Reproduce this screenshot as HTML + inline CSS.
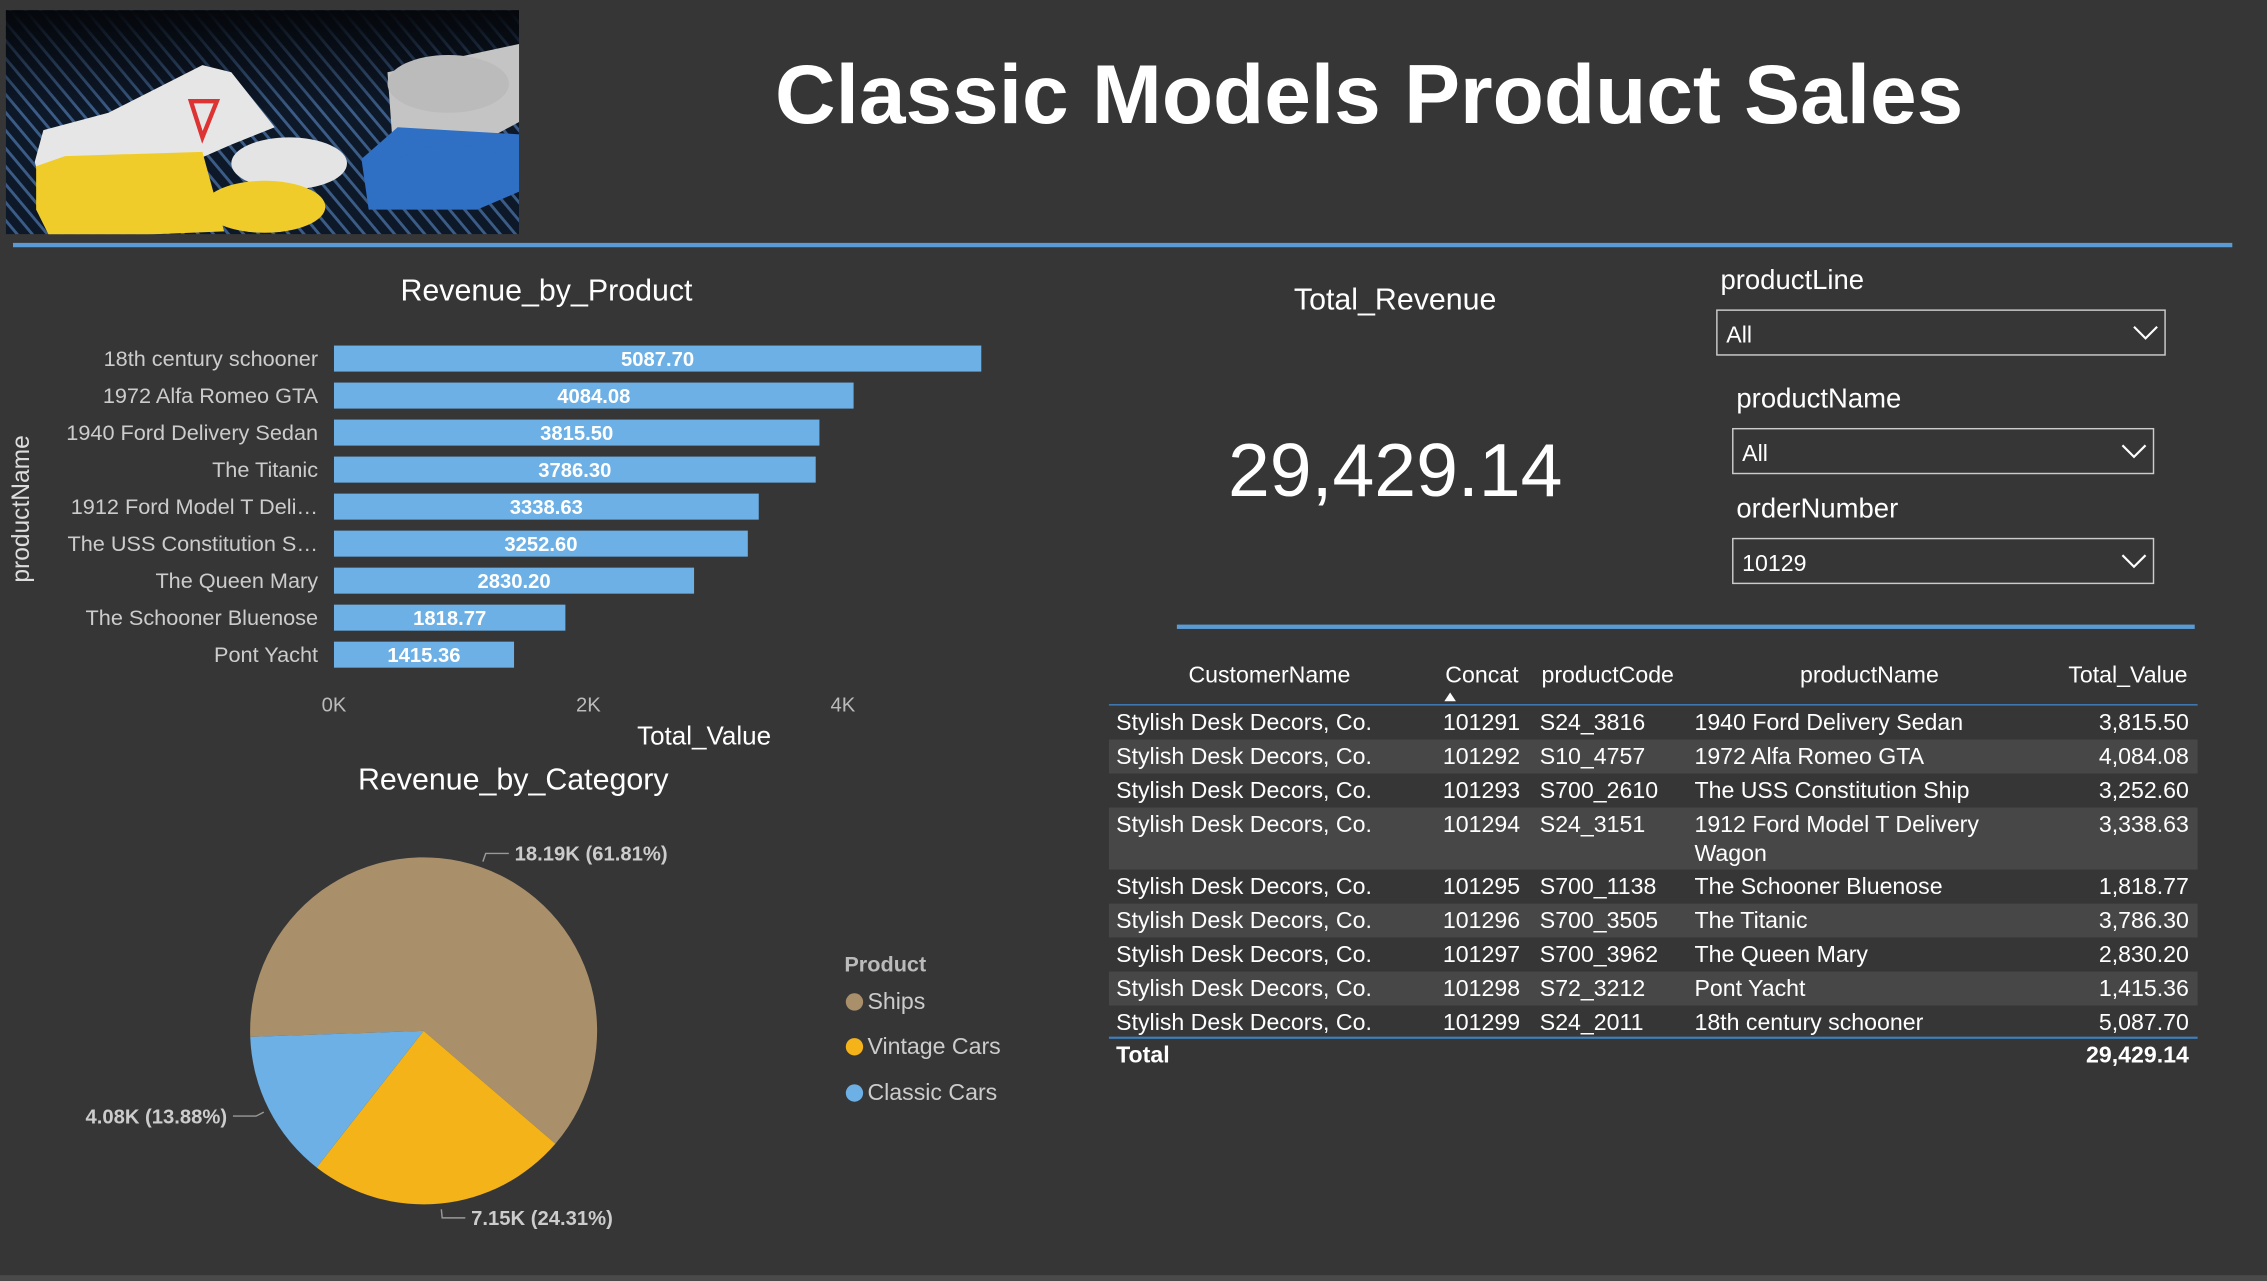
<!DOCTYPE html>
<html><head><meta charset="utf-8"><style>
html,body{margin:0;padding:0;background:#363636;overflow:hidden}
svg{display:block;font-family:"Liberation Sans",sans-serif}
</style></head><body>
<svg id="s" width="2267" height="1281" viewBox="0 0 1568 886" xmlns="http://www.w3.org/2000/svg">
<rect width="1568" height="886" fill="#363636"/>
<defs><pattern id="st" width="8" height="8" patternUnits="userSpaceOnUse" patternTransform="rotate(-40)"><rect width="8" height="8" fill="#0d1828"/><rect width="2" height="8" fill="#3b5c86"/></pattern>
<linearGradient id="fade" x1="0" y1="0" x2="0" y2="1"><stop offset="0" stop-color="#05070b" stop-opacity="1"/><stop offset="0.45" stop-color="#05070b" stop-opacity="0"/></linearGradient>
<clipPath id="imgclip"><rect x="4" y="7" width="355" height="155"/></clipPath></defs>
<g clip-path="url(#imgclip)">
<rect x="4" y="7" width="355" height="155" fill="url(#st)"/>
<rect x="4" y="7" width="355" height="155" fill="url(#fade)"/>
<polygon points="24,112 30,90 75,78 140,45 160,50 190,88 160,100 80,135 30,132" fill="#e6e6e6"/>
<polygon points="132,70 140,95 150,70" fill="none" stroke="#d33" stroke-width="3"/>
<ellipse cx="200" cy="113" rx="40" ry="18" fill="#e4e4e4"/>
<polygon points="268,50 398,22 408,58 330,100 272,105" fill="#c4c4c4"/>
<ellipse cx="440" cy="88" rx="42" ry="20" fill="#bbbbbb" transform="translate(-130,-30)"/>
<polygon points="25,170 25,140 45,133 140,130 155,185 35,190" fill="#f0cc2a" transform="translate(0,-25)"/>
<ellipse cx="183" cy="143" rx="42" ry="18" fill="#f0cc2a"/>
<polygon points="250,150 275,128 395,135 412,150 330,185 255,185" fill="#2f6fc4" transform="translate(0,-40)"/>
<ellipse cx="313" cy="120" rx="42" ry="20" fill="#2f6fc4"/>
</g>
<text x="947" y="85" text-anchor="middle" font-size="58" font-weight="bold" fill="#ffffff">Classic Models Product Sales</text>
<rect x="9" y="168" width="1535" height="3" fill="#5b9bd5"/>
<g id="bar">
<text x="378" y="208" text-anchor="middle" font-size="21" fill="#fff">Revenue_by_Product</text>
<text x="20" y="352" text-anchor="middle" font-size="17" fill="#ddd" transform="rotate(-90 20 352)">productName</text>
<text x="487" y="515" text-anchor="middle" font-size="18" fill="#fff">Total_Value</text>
</g>
<g id="pie">
<text x="355" y="546" text-anchor="middle" font-size="21" fill="#fff">Revenue_by_Category</text>
</g>
<g>
<text x="584" y="672" font-size="15" font-weight="bold" fill="#bbb">Product</text>
<circle cx="591" cy="693" r="6" fill="#a9906a"/>
<text x="600" y="698" font-size="16" fill="#ccc">Ships</text>
<circle cx="591" cy="724" r="6" fill="#f5b31a"/>
<text x="600" y="729" font-size="16" fill="#ccc">Vintage Cars</text>
<circle cx="591" cy="756" r="6" fill="#6cb0e6"/>
<text x="600" y="761" font-size="16" fill="#ccc">Classic Cars</text>
</g>
<g>
<text x="965" y="214" text-anchor="middle" font-size="21" fill="#fff">Total_Revenue</text>
<text x="965" y="343" text-anchor="middle" font-size="52" fill="#fff">29,429.14</text>
</g>
<g>
<text x="1190" y="200" font-size="19" fill="#fff">productLine</text>
<rect x="1187.5" y="214.5" width="310" height="31" fill="#363636" stroke="#ccc"/>
<text x="1194" y="237" font-size="16" fill="#fff">All</text>
<polyline points="1476,226 1484,234 1492,226" fill="none" stroke="#fff" stroke-width="1.5"/>
</g>
<g>
<text x="1201" y="282" font-size="19" fill="#fff">productName</text>
<rect x="1198.5" y="296.5" width="291" height="31" fill="#363636" stroke="#ccc"/>
<text x="1205" y="319" font-size="16" fill="#fff">All</text>
<polyline points="1468,308 1476,316 1484,308" fill="none" stroke="#fff" stroke-width="1.5"/>
</g>
<g>
<text x="1201" y="358" font-size="19" fill="#fff">orderNumber</text>
<rect x="1198.5" y="372.5" width="291" height="31" fill="#363636" stroke="#ccc"/>
<text x="1205" y="395" font-size="16" fill="#fff">10129</text>
<polyline points="1468,384 1476,392 1484,384" fill="none" stroke="#fff" stroke-width="1.5"/>
</g>
<rect x="814" y="432" width="704" height="3" fill="#5b9bd5"/>
<g id="tbl"></g>
<rect x="0" y="882" width="1568" height="4" fill="#4a4a4a"/>
</svg>
<script>
const NS="http://www.w3.org/2000/svg";
function mk(p,t,a,txt){const e=document.createElementNS(NS,t);for(const k in a)e.setAttribute(k,a[k]);if(txt!=null)e.textContent=txt;p.appendChild(e);return e;}
// bar chart data
const productNames=["18th century schooner","1972 Alfa Romeo GTA","1940 Ford Delivery Sedan","The Titanic","1912 Ford Model T Deli…","The USS Constitution S…","The Queen Mary","The Schooner Bluenose","Pont Yacht"];
const productValues=[5087.70,4084.08,3815.50,3786.30,3338.63,3252.60,2830.20,1818.77,1415.36];
const xTicks=[0,2000,4000];
const xTickLabels=["0K","2K","4K"];
const bar=document.getElementById('bar');
const x0=231,pxPer=176/2000;
const xs=v=>x0+v*pxPer;
const ys=i=>248+i*25.6;
xTicks.forEach((t,i)=>{const e=mk(bar,'text',{x:xs(t),y:492,'text-anchor':'middle','font-size':14,fill:'#bbb'},xTickLabels[i]);

});
productValues.forEach((v,i)=>{
const r=mk(bar,'rect',{x:x0,y:ys(i)-9,width:xs(v)-x0,height:18,fill:'#6cb0e6'});


const l=mk(bar,'text',{x:(x0+xs(v))/2,y:ys(i)+5,'text-anchor':'middle','font-size':14,'font-weight':'bold',fill:'#fff'},v.toFixed(2));


const c=mk(bar,'text',{x:220,y:ys(i)+5,'text-anchor':'end','font-size':15,fill:'#ccc'},productNames[i]);


});
// pie data
const categories=["Ships","Vintage Cars","Classic Cars"];
const categoryValues=[18190,7150,4080];
const pieLabels=["18.19K (61.81%)","7.15K (24.31%)","4.08K (13.88%)"];
const colors=["#a9906a","#f5b31a","#6cb0e6"];
const pie=document.getElementById('pie');
const cx=293,cy=713,R=120;let ang=-92*Math.PI/180;
const tot=categoryValues.reduce((a,b)=>a+b,0);
categoryValues.forEach((v,i)=>{
const a2=ang+v/tot*2*Math.PI;
const p1=[cx+R*Math.sin(ang),cy-R*Math.cos(ang)],p2=[cx+R*Math.sin(a2),cy-R*Math.cos(a2)];
const big=(a2-ang)>Math.PI?1:0;
const s=mk(pie,'path',{d:`M${cx},${cy}L${p1[0]},${p1[1]}A${R},${R} 0 ${big} 1 ${p2[0]},${p2[1]}Z`,fill:colors[i]});


const m=(ang+a2)/2;
const e1=[cx+(R+4)*Math.sin(m),cy-(R+4)*Math.cos(m)],e2=[cx+(R+10)*Math.sin(m),cy-(R+10)*Math.cos(m)];
const right=Math.sin(m)>=0;const e3=[e2[0]+(right?16:-16),e2[1]];
mk(pie,'polyline',{points:`${e1} ${e2} ${e3}`,fill:'none',stroke:'#999'});
const t=mk(pie,'text',{x:e3[0]+(right?4:-4),y:e3[1]+5,'text-anchor':right?'start':'end','font-size':14,'font-weight':'bold',fill:'#ccc'},pieLabels[i]);


ang=a2;});
// table
const tbl=document.getElementById('tbl');
const rows=[["101291","S24_3816","1940 Ford Delivery Sedan","3,815.50"],["101292","S10_4757","1972 Alfa Romeo GTA","4,084.08"],["101293","S700_2610","The USS Constitution Ship","3,252.60"],["101294","S24_3151","1912 Ford Model T Delivery|Wagon","3,338.63"],["101295","S700_1138","The Schooner Bluenose","1,818.77"],["101296","S700_3505","The Titanic","3,786.30"],["101297","S700_3962","The Queen Mary","2,830.20"],["101298","S72_3212","Pont Yacht","1,415.36"],["101299","S24_2011","18th century schooner","5,087.70"]];
const hdr=[["CustomerName",878,'middle'],["Concat",1025,'middle'],["productCode",1112,'middle'],["productName",1293,'middle'],["Total_Value",1513,'end']];
hdr.forEach(h=>{const e=mk(tbl,'text',{x:h[1],y:472,'text-anchor':h[2],'font-size':16,fill:'#fff'},h[0]);

});
mk(tbl,'polygon',{points:'999,485 1003,479 1007,485',fill:'#fff'});
mk(tbl,'rect',{x:767,y:487,width:753,height:1.5,fill:'#3f7fc0'});
let y=488;
rows.forEach((r,i)=>{const two=r[2].includes('|');const h=two?34:23.5;
const bg=mk(tbl,'rect',{x:767,y:y,width:753,height:h+(two?9:0),fill:i%2?'#474747':'#363636'});


const ty=y+17;
mk(tbl,'text',{x:772,y:ty,'font-size':16,fill:'#fff'},'Stylish Desk Decors, Co.');
mk(tbl,'text',{x:998,y:ty,'font-size':16,fill:'#fff'},r[0]);
mk(tbl,'text',{x:1065,y:ty,'font-size':16,fill:'#fff'},r[1]);
const p=r[2].split('|');mk(tbl,'text',{x:1172,y:ty,'font-size':16,fill:'#fff'},p[0]);
if(p[1])mk(tbl,'text',{x:1172,y:ty+20,'font-size':16,fill:'#fff'},p[1]);
mk(tbl,'text',{x:1514,y:ty,'text-anchor':'end','font-size':16,fill:'#fff'},r[3]);
y+=h+(two?9:0);});
mk(tbl,'rect',{x:767,y:717,width:753,height:1.5,fill:'#3f7fc0'});
const t1=mk(tbl,'text',{x:772,y:735,'font-size':16,'font-weight':'bold',fill:'#fff'},'Total');


const t2=mk(tbl,'text',{x:1514,y:735,'text-anchor':'end','font-size':16,'font-weight':'bold',fill:'#fff'},'29,429.14');


</script>
</body></html>
